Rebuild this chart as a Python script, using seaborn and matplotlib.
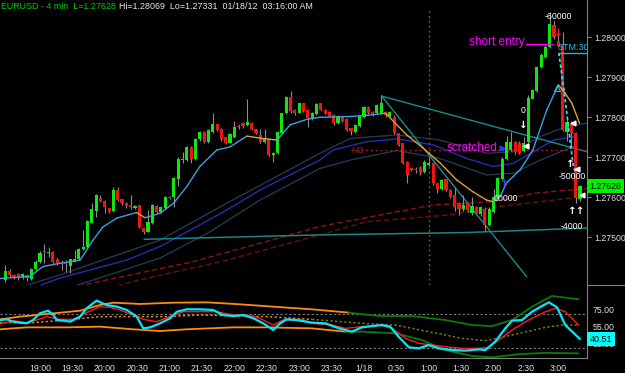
import numpy as np
import matplotlib
matplotlib.use("Agg")
import matplotlib.pyplot as plt
import seaborn as sns
from matplotlib.transforms import blended_transform_factory
from matplotlib.lines import Line2D

# ---------------- data ----------------
symbol_title = "EURUSD - 4 min  L=1.27628"
info_title = "Hi=1.28069  Lo=1.27331  01/18/12  03:16:00 AM"

first_bar_clock = 18 * 60 + 28   # first visible bar 18:28
bar_minutes = 4

bar_open = [1.27393,1.27416,1.27405,1.27407,1.27400,1.27405,1.27395,1.27422,1.27439,1.27465,
1.27460,1.27464,1.27445,1.27436,1.27439,1.27428,1.27439,1.27445,1.27471,1.27476,
1.27537,1.27566,1.27599,1.27591,1.27572,1.27566,1.27618,1.27595,1.27585,1.27580,
1.27573,1.27580,1.27524,1.27514,1.27536,1.27579,1.27564,1.27574,1.27601,1.27601,
1.27645,1.27693,1.27693,1.27726,1.27695,1.27745,1.27764,1.27739,1.27764,1.27782,
1.27771,1.27750,1.27737,1.27751,1.27779,1.27785,1.27781,1.27786,1.27770,1.27756,
1.27739,1.27745,1.27705,1.27711,1.27761,1.27810,1.27851,1.27818,1.27812,1.27835,
1.27818,1.27796,1.27808,1.27835,1.27818,1.27814,1.27805,1.27786,1.27801,1.27795,
1.27772,1.27764,1.27778,1.27801,1.27826,1.27814,1.27810,1.27811,1.27814,1.27803,
1.27801,1.27760,1.27735,1.27689,1.27672,1.27670,1.27676,1.27662,1.27680,1.27685,
1.27635,1.27620,1.27645,1.27618,1.27605,1.27585,1.27572,1.27586,1.27560,1.27576,
1.27558,1.27572,1.27532,1.27564,1.27600,1.27647,1.27695,1.27718,1.27739,1.27735,
1.27716,1.27739,1.27847,1.27865,1.27926,1.27951,1.27976,1.28031,1.27990,1.27980,
1.27764,1.27785,1.27760,1.27595]
bar_high = [1.27430,1.27420,1.27408,1.27411,1.27410,1.27408,1.27423,1.27442,1.27466,1.27483,
1.27476,1.27466,1.27448,1.27443,1.27443,1.27447,1.27468,1.27473,1.27518,1.27544,
1.27585,1.27608,1.27605,1.27593,1.27574,1.27626,1.27626,1.27596,1.27588,1.27605,
1.27580,1.27582,1.27526,1.27568,1.27583,1.27581,1.27579,1.27603,1.27604,1.27650,
1.27700,1.27714,1.27729,1.27728,1.27748,1.27766,1.27766,1.27770,1.27811,1.27784,
1.27773,1.27752,1.27760,1.27791,1.27783,1.27787,1.27846,1.27788,1.27772,1.27772,
1.27772,1.27748,1.27712,1.27766,1.27812,1.27853,1.27866,1.27820,1.27837,1.27837,
1.27820,1.27813,1.27836,1.27837,1.27820,1.27816,1.27808,1.27806,1.27803,1.27797,
1.27774,1.27783,1.27806,1.27829,1.27829,1.27817,1.27834,1.27855,1.27816,1.27817,
1.27805,1.27762,1.27737,1.27691,1.27674,1.27676,1.27678,1.27692,1.27698,1.27688,
1.27637,1.27646,1.27647,1.27620,1.27625,1.27587,1.27605,1.27588,1.27600,1.27579,
1.27579,1.27575,1.27575,1.27620,1.27650,1.27700,1.27754,1.27764,1.27742,1.27740,
1.27750,1.27855,1.27870,1.27929,1.27960,1.27980,1.28062,1.28040,1.28010,1.28014,
1.27795,1.27790,1.27763,1.27630]
bar_low = [1.27389,1.27400,1.27395,1.27393,1.27396,1.27390,1.27393,1.27418,1.27437,1.27435,
1.27451,1.27436,1.27432,1.27418,1.27414,1.27412,1.27438,1.27443,1.27468,1.27474,
1.27535,1.27551,1.27589,1.27560,1.27561,1.27564,1.27590,1.27582,1.27573,1.27572,
1.27571,1.27523,1.27508,1.27512,1.27534,1.27560,1.27562,1.27572,1.27595,1.27576,
1.27628,1.27685,1.27691,1.27685,1.27693,1.27742,1.27736,1.27737,1.27762,1.27765,
1.27742,1.27733,1.27735,1.27749,1.27772,1.27773,1.27779,1.27769,1.27758,1.27735,
1.27735,1.27702,1.27689,1.27709,1.27759,1.27808,1.27810,1.27805,1.27810,1.27813,
1.27776,1.27793,1.27805,1.27815,1.27807,1.27800,1.27782,1.27783,1.27788,1.27765,
1.27756,1.27762,1.27775,1.27799,1.27808,1.27803,1.27808,1.27809,1.27802,1.27800,
1.27758,1.27728,1.27682,1.27635,1.27665,1.27660,1.27655,1.27660,1.27678,1.27632,
1.27610,1.27618,1.27615,1.27598,1.27566,1.27555,1.27565,1.27563,1.27556,1.27557,
1.27553,1.27516,1.27528,1.27562,1.27597,1.27644,1.27692,1.27715,1.27709,1.27708,
1.27713,1.27735,1.27845,1.27862,1.27923,1.27948,1.27973,1.27995,1.27975,1.27765,
1.27740,1.27725,1.27585,1.27590]
bar_close = [1.27416,1.27405,1.27400,1.27397,1.27407,1.27397,1.27420,1.27439,1.27461,1.27462,
1.27464,1.27439,1.27435,1.27433,1.27433,1.27445,1.27445,1.27470,1.27476,1.27541,
1.27570,1.27605,1.27591,1.27576,1.27566,1.27618,1.27593,1.27585,1.27578,1.27575,
1.27578,1.27526,1.27513,1.27539,1.27580,1.27564,1.27576,1.27601,1.27597,1.27647,
1.27697,1.27695,1.27726,1.27695,1.27745,1.27764,1.27739,1.27768,1.27782,1.27768,
1.27745,1.27736,1.27758,1.27776,1.27776,1.27779,1.27788,1.27771,1.27760,1.27739,
1.27746,1.27705,1.27710,1.27764,1.27810,1.27851,1.27816,1.27810,1.27835,1.27816,
1.27797,1.27810,1.27833,1.27818,1.27810,1.27804,1.27786,1.27803,1.27791,1.27768,
1.27766,1.27780,1.27803,1.27826,1.27810,1.27806,1.27831,1.27835,1.27806,1.27814,
1.27760,1.27731,1.27685,1.27655,1.27668,1.27669,1.27660,1.27689,1.27686,1.27635,
1.27620,1.27643,1.27618,1.27601,1.27576,1.27572,1.27580,1.27568,1.27579,1.27561,
1.27576,1.27531,1.27570,1.27600,1.27647,1.27697,1.27739,1.27739,1.27714,1.27711,
1.27736,1.27849,1.27868,1.27926,1.27956,1.27976,1.28033,1.28001,1.27978,1.27768,
1.27789,1.27760,1.27597,1.27628]

# fast moving average (bar index, price)
ma_fast_bar = [-1.25,5.7,8.7,12.6,17.3,20.3,22.6,25.8,30.4,32.3,35.8,38.9,42.0,45.0,48.9,52.0,55.9,59.6,62.9,65.9,
               69.8,72.8,79.8,83.7,88.0,92.9,96.7,100.6,104.5,108.2,111.4,112.9,114.5,116.0,119.1,122.1,125.3,128.0,129.5,131.1,132.9]
ma_fast_price = [1.27397,1.27402,1.27427,1.27435,1.27443,1.27493,1.27526,1.27548,1.27562,1.27549,1.27560,1.27585,1.27627,
                 1.27677,1.27718,1.27726,1.27753,1.27747,1.27743,1.27781,1.27795,1.27800,1.27802,1.27805,1.27810,1.27756,
                 1.27723,1.27686,1.27643,1.27614,1.27593,1.27589,1.27601,1.27636,1.27668,1.27718,1.27818,1.27881,1.27861,
                 1.27836,1.27785]
# slow average ribbon
ribbon_mid_bar = [8.0,12.6,28.1,35.8,45.0,51.2,58.9,66.6,72.8,75.8,83.6,90.6,99.1,106.8,112.9,117.6,122.2,126.9,131.5]
ribbon_mid_price = [1.27380,1.27398,1.27443,1.27477,1.27531,1.27568,1.27618,1.27660,1.27693,1.27718,
                    1.27739,1.27746,1.27731,1.27697,1.27677,1.27685,1.27714,1.27743,1.27751]
ribbon_up_bar = [2.0,12.6,35.8,51.2,62.8,72.8,79.8,90.6,100.6,111.4,117.6,123.8,129.9,134.6]
ribbon_up_price = [1.27370,1.27406,1.27493,1.27585,1.27652,1.27710,1.27747,1.27756,1.27743,1.27710,
                   1.27714,1.27752,1.27777,1.27785]
ribbon_lo_bar = [15.0,20.3,35.8,47.4,58.9,72.8,79.8,90.6,100.6,111.4,117.6,123.8,131.5]
ribbon_lo_price = [1.27375,1.27393,1.27448,1.27514,1.27593,1.27672,1.27693,1.27717,1.27697,1.27656,1.27660,1.27693,1.27727]
# long averages (dark red dashed)
long_a_bar = [15.0,20.3,43.4,58.9,72.8,99.1,112.9,122.2,134.6]
long_a_price = [1.27373,1.27386,1.27439,1.27485,1.27527,1.27581,1.27589,1.27610,1.27622]
long_b_bar = [24.0,28.1,51.3,72.8,83.6,102.9,114.5,133.8]
long_b_price = [1.27373,1.27386,1.27443,1.27506,1.27539,1.27556,1.27577,1.27602]
# drawn trend lines
support_bar = [32.1,72.8,106.9,134.6]
support_price = [1.27495,1.27506,1.27512,1.27523]
wedge_upper_bar = [87.1,134.6]
wedge_upper_price = [1.27853,1.27714]
wedge_lower_bar = [87.1,120.7]
wedge_lower_price = [1.27853,1.27401]
stm_bar = [128.1,129.3,131.5,132.3]
stm_price = [1.27961,1.27868,1.27673,1.27660]
stm_level = 1.27960
m3_level = 1.27718
m3_start_bar = 80.0
session_line_bar = 98.0

# oscillator panel
osc_fast_bar = [-1.25,0.3,1.8,3.4,4.9,6.4,8.0,9.9,11.1,11.9,13.4,15.0,17.3,18.8,21.1,23.4,25.8,28.1,30.4,31.9,33.5,35.8,
                38.1,39.7,42.0,45.0,48.1,50.4,52.8,55.1,57.4,59.7,62.0,63.6,65.1,67.4,71.0,74.1,77.2,80.2,82.5,84.9,87.2,
                89.1,91.0,93.4,95.7,98.0,100.3,103.4,106.5,109.6,111.1,113.4,115.7,117.3,119.6,121.9,124.2,125.8,127.7,
                129.6,131.2,132.7,133.0]
osc_fast_val = [62.9,63.7,61.0,59.8,59.0,62.9,70.8,73.9,68.8,62.9,62.2,61.0,66.9,76.7,85.7,80.6,78.6,74.7,66.9,53.1,54.3,
                59.0,64.9,72.7,75.5,75.5,74.7,68.8,67.6,68.8,64.9,59.0,51.2,59.0,63.7,62.9,59.8,59.0,53.1,49.2,54.3,55.7,
                57.0,55.1,43.3,30.8,29.6,33.5,29.6,27.6,26.9,28.4,27.6,37.5,53.1,62.2,62.9,72.7,79.4,83.7,77.8,57.0,49.2,
                42.0,40.51]
osc_slow_bar = [-1.25,1.8,4.9,7.2,9.6,12.6,15.7,18.8,21.9,24.2,26.5,29.6,31.9,35.0,38.1,41.2,45.0,48.9,52.8,55.9,58.9,62.0,
                64.3,68.2,71.0,75.6,78.7,82.5,86.4,89.5,92.6,95.7,98.8,101.8,105.7,109.6,111.9,114.2,117.3,121.1,125.0,
                127.3,129.6,132.7]
osc_slow_val = [58.2,62.2,59.8,62.9,66.9,63.7,63.7,71.6,78.6,77.8,74.7,68.8,63.7,61.0,66.9,72.7,72.7,72.7,68.8,68.8,64.9,
                57.0,62.9,63.7,59.0,57.0,53.1,55.1,57.0,53.1,41.4,35.5,33.5,31.6,29.6,29.6,30.8,39.4,51.2,62.9,72.7,76.7,
                72.7,57.0]
band_up_bar = [-1.25,3.4,9.6,17.3,21.9,25.0,31.2,38.9,46.6,54.3,62.0,71.0,79.5,86.4,94.1,101.8,108.0,112.6,117.3,121.9,126.5,132.7]
band_up_val = [63.7,66.9,70.0,73.9,80.6,83.3,81.8,83.3,83.7,81.4,78.6,75.5,71.6,67.6,67.6,62.9,57.0,55.7,62.9,78.6,91.2,87.3]
band_lo_bar = [-1.25,4.9,14.2,21.9,29.6,35.8,42.0,52.8,60.5,71.0,78.7,82.5,90.3,96.4,101.8,108.0,112.6,118.8,125.0,132.7]
band_lo_val = [52.0,54.3,54.3,55.1,52.0,50.0,52.0,54.3,54.3,53.1,49.2,49.2,47.3,39.4,27.6,20.6,19.0,22.7,24.3,23.7]
band_mid_bar = [-1.25,6.5,14.2,21.9,37.3,45.0,60.5,71.0,82.5,90.3,98.0,105.7,111.1,117.3,125.0,128.8,132.7]
band_mid_val = [59.8,59.8,62.9,66.9,66.9,68.8,66.9,63.7,59.0,57.0,49.2,41.4,38.6,45.3,54.3,57.0,57.0]
band_color_change_bar = 80.0
osc_levels = [70, 30]
osc_ticks = [35, 55, 75]
last_osc = 40.51

price_ticks = [1.275, 1.276, 1.277, 1.278, 1.279, 1.280]
tick_labels = ["19:00", "19:30", "20:00", "20:30", "21:00", "21:30", "22:00", "22:30", "23:00",
               "23:30", "1/18", "0:30", "1:00", "1:30", "2:00", "2:30", "3:00"]
tick_clock = [1140, 1170, 1200, 1230, 1260, 1290, 1320, 1350, 1380, 1410, 1440,
              1470, 1500, 1530, 1560, 1590, 1620]

# ---------------- style ----------------
sns.set_style("dark")
plt.rcParams['font.family'] = ['Liberation Sans', 'DejaVu Sans']
BG = "black"
GRID = "#808080"
TXT = "#e0e0e0"

W, H = 625, 373
fig = plt.figure(figsize=(W / 100, H / 100), dpi=100, facecolor=BG)
axr = 587 / W
ax = fig.add_axes([0, (H - 285) / H, axr, 285 / H])
axo = fig.add_axes([0, (H - 358.3) / H, axr, (358.3 - 285) / H])

xlim = (-1.25, 134.63)
for a in (ax, axo):
    a.set_facecolor(BG)
    a.set_xlim(*xlim)
    for s in ("left", "top"):
        a.spines[s].set_visible(False)
    a.spines["right"].set_color(GRID)
    a.spines["bottom"].set_color(GRID)
    a.grid(False)
ax.spines["bottom"].set_visible(False)

ax.set_ylim(1.2738075, 1.2809325)
axo.set_ylim(17.9, 104.1)

# ---------------- candles ----------------
o = np.array(bar_open); h = np.array(bar_high); l = np.array(bar_low); c = np.array(bar_close)
x = np.arange(len(o))
up = c >= o
ax.vlines(x, l, h, color="#8c8c8c", lw=0.8, zorder=3)
body_lo = np.minimum(o, c)
body_h = np.maximum(np.abs(c - o), 0.000025)
ax.bar(x[up], body_h[up], bottom=body_lo[up], width=0.72, color="#12e612", lw=0, zorder=4)
ax.bar(x[~up], body_h[~up], bottom=body_lo[~up], width=0.72, color="#f01414", lw=0, zorder=4)

# ---------------- overlays ----------------
def line(a, xs, ys, color, lw=1.0, ls="-", z=2):
    sns.lineplot(x=xs, y=ys, ax=a, color=color, lw=lw, linestyle=ls, sort=False,
                 estimator=None, legend=False, zorder=z)

line(ax, long_a_bar, long_a_price, "#8a1414", 1.0, (0, (4, 2)))
line(ax, long_b_bar, long_b_price, "#6e0e0e", 1.0, (0, (4, 2)))
line(ax, ribbon_up_bar, ribbon_up_price, "#1d3a55", 1.0)
line(ax, ribbon_lo_bar, ribbon_lo_price, "#1d3a55", 1.0)
line(ax, ribbon_mid_bar, ribbon_mid_price, "#2a2ab0", 1.0)
line(ax, support_bar, support_price, "#1a8585", 1.1)
line(ax, wedge_upper_bar, wedge_upper_price, "#1a8c8c", 1.0)
line(ax, wedge_lower_bar, wedge_lower_price, "#1a8c8c", 1.0)
ax.hlines(m3_level, m3_start_bar, xlim[1], color="#9a1a1a", lw=1.0, linestyles=(0, (1.5, 2)), zorder=2)
ax.text(m3_start_bar, m3_level, "M3", color="#8b1a1a", fontsize=6.5, va="center", ha="left", zorder=2)
ax.axvline(session_line_bar, ymin=0, ymax=(285 - 10) / 285, color="#5e5e22", lw=1.0,
           linestyle=(0, (1.5, 2)), zorder=1)

# fast MA, coloured by slope
for k in range(len(ma_fast_bar) - 1):
    col = "#3fa0e0" if ma_fast_price[k + 1] >= ma_fast_price[k] else "#e0a03a"
    ax.plot(ma_fast_bar[k:k + 2], ma_fast_price[k:k + 2], color=col, lw=1.0, zorder=5)

line(ax, stm_bar, stm_price, "#40e0ff", 1.2, (0, (2, 1.5)), z=6)
ax.hlines(stm_level, stm_bar[0] - 0.2, xlim[1], color="#20b8e0", lw=1.0, zorder=6)
ax.text(stm_bar[0] - 0.2, stm_level + 0.00003, "STM:30", color="#20c0e8", fontsize=6.5,
        ha="left", va="bottom", clip_on=True, zorder=6)
ax.plot([127.6], [1.27873], marker="^", ms=4, mfc="none", mec="#20c0e8", mew=0.8, zorder=6)

# annotations
ax.text(120.3, 1.27989, "short entry", color="#ff00ff", fontsize=8.5, ha="right", va="center", zorder=7)
ax.plot([120.4, 126.5], [1.27983, 1.27983], color="#ff00ff", lw=1.0, zorder=7)
ax.text(113.8, 1.27724, "scratched", color="#ff00ff", fontsize=8.5, ha="right", va="center", zorder=7)
ax.plot([114.9], [1.27724], marker=">", ms=3.5, color="#2040ff", zorder=7)
for bx, py, s in [(127.9, 1.28051, "-60000"), (119.9, 1.27816, "0"), (115.9, 1.27598, "60000"),
                  (131.1, 1.27651, "-50000"), (131.2, 1.27528, "-4000")]:
    ax.text(bx, py, s, color="white", fontsize=6.3, ha="center", va="center", zorder=8)
for bx, py, s, col in [(119.9, 1.27781, "\u2193", "white"), (130.7, 1.27683, "\u2191", "white"),
                       (132.35, 1.27565, "\u2191\u2191", "white"),
                       (115.6, 1.27633, "\u2191", "#2050ff"), (128.0, 1.28011, "\u2193", "#ff2020")]:
    ax.text(bx, py, s, color=col, fontsize=7.5, ha="center", va="center", fontweight="bold",
            family=["DejaVu Sans"], zorder=8)
ax.plot([120.5, 131.5, 132.4, 133.5], [1.27728, 1.27786, 1.27670, 1.27606], linestyle="none",
        marker="<", ms=3.5, color="white", zorder=8)

# price axis
ax.yaxis.tick_right()
ax.set_yticks(price_ticks)
ax.set_yticklabels([f"{p:.5f}" for p in price_ticks])
ax.tick_params(axis="y", colors=GRID, labelcolor=TXT, labelsize=6.3, length=3, width=0.8, pad=2)
ax.set_xticks([])
tr = blended_transform_factory(ax.transAxes, ax.transData)
ax.text(1.004, bar_close[-1], f"{bar_close[-1]:.5f}", transform=tr, color="black", fontsize=6.3,
        ha="left", va="center", clip_on=False, zorder=10,
        bbox=dict(boxstyle="square,pad=0.3", fc="#00f000", ec="none"))

# ---------------- oscillator ----------------
for lv in osc_levels:
    axo.axhline(lv, color="#7a7a7a", lw=0.8, linestyle=(0, (2, 2)), zorder=1)

def split_plot(bars, vals, c1, c2, lw, ls, z):
    idx = max(i for i, b in enumerate(bars) if b <= band_color_change_bar)
    line(axo, bars[:idx + 1], vals[:idx + 1], c1, lw, ls, z)
    line(axo, bars[idx:], vals[idx:], c2, lw, ls, z)

split_plot(band_up_bar, band_up_val, "#ff8c10", "#0a7a0a", 1.3, "-", 2)
split_plot(band_lo_bar, band_lo_val, "#ff8c10", "#0a7a0a", 1.3, "-", 2)
split_plot(band_mid_bar, band_mid_val, "#d88a20", "#7a7a10", 1.1, (0, (1.5, 1.5)), 2)
line(axo, osc_slow_bar, osc_slow_val, "#ff1a1a", 1.0, "-", 3)
line(axo, osc_fast_bar, osc_fast_val, "#00e8ff", 1.6, "-", 4)

axo.yaxis.tick_right()
axo.set_yticks(osc_ticks)
axo.set_yticklabels([f"{v:.2f}" for v in osc_ticks])
axo.tick_params(axis="y", colors=GRID, labelcolor=TXT, labelsize=6.3, length=0, pad=4)
tro = blended_transform_factory(axo.transAxes, axo.transData)
axo.text(1.004, last_osc, f"{last_osc:.2f}", transform=tro, color="black", fontsize=6.5,
         ha="left", va="center", clip_on=False, zorder=10,
         bbox=dict(boxstyle="square,pad=0.3", fc="#00ffff", ec="none"))

tick_pos = [(t - first_bar_clock) / bar_minutes for t in tick_clock]
axo.set_xticks(tick_pos)
axo.set_xticklabels(tick_labels)
axo.tick_params(axis="x", colors=GRID, labelcolor=TXT, labelsize=6.3, length=2.5, width=0.8, pad=1.5)
axo.set_xlabel(""); axo.set_ylabel(""); ax.set_xlabel(""); ax.set_ylabel("")

# panel separator in the axis strip
fig.add_artist(Line2D([axr, 1.0], [(H - 285) / H] * 2, color=GRID, lw=0.8))

# title
fig.text(1 / W, 1 - 6.5 / H, symbol_title, color="#00cc00", fontsize=6.4, ha="left", va="center")
fig.text(119 / W, 1 - 6.5 / H, info_title, color="#e8e8e8", fontsize=6.4, ha="left", va="center")

fig.savefig("out.png", dpi=100, facecolor=BG)
